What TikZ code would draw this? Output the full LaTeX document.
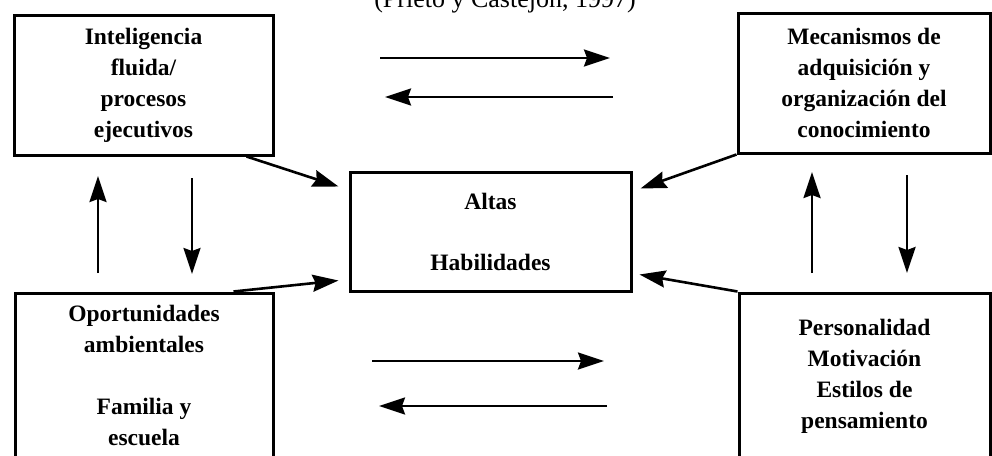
\documentclass[tikz,border=0pt]{standalone}
\usepackage{fontspec}
\setmainfont{Liberation Serif}
\usetikzlibrary{arrows.meta}
\begin{document}
\begin{tikzpicture}[x=1pt,y=-1pt,
  boxstyle/.style={draw, line width=3pt, inner sep=0pt, align=center,
    font={\fontsize{23.5}{31}\selectfont\bfseries}},
  arr/.style={line width=2.6pt, -{Stealth[length=26pt,width=17pt,inset=3pt]}}]
\useasboundingbox (0,0) rectangle (992,455);
\fill[white] (0,0) rectangle (992,455);
\node[anchor=base, font={\fontsize{26}{30}\selectfont}] (title) at (505,7) {(Prieto y Castejón, 1997)};
\node[boxstyle, minimum width=259pt, minimum height=140pt] (TL) at (143.5,85)
  {Inteligencia\\fluida/\\procesos\\ejecutivos};
\node[boxstyle, minimum width=252pt, minimum height=140pt] (TR) at (864,83)
  {Mecanismos de\\adquisición y\\organización del\\conocimiento};
\node[boxstyle, minimum width=258pt, minimum height=165pt] (BL) at (144,375.5)
  {Oportunidades\\ambientales\\[31pt]Familia y\\escuela};
\node[boxstyle, minimum width=251pt, minimum height=166pt] (BR) at (864.5,376)
  {Personalidad\\Motivación\\Estilos de\\pensamiento};
\node[boxstyle, minimum width=281pt, minimum height=119pt] (C) at (490.5,231.5)
  {Altas\\[30pt]Habilidades};
% diagonal arrows
\draw[arr] ([xshift=-28pt]TL.south east) -- ([xshift=-10pt,yshift=-16pt]C.north west);
\draw[arr] (TR.south west) -- ([xshift=8pt,yshift=-18pt]C.north east);
\draw[arr] ([xshift=-41pt]BL.north east) -- ([xshift=-10pt,yshift=12pt]C.south west);
\draw[arr] (BR.north west) -- ([xshift=7pt,yshift=18pt]C.south east);
% horizontal arrows
\coordinate (h1a) at (380,58);  \coordinate (h1b) at (610,58);
\coordinate (h2a) at (613,97);  \coordinate (h2b) at (385,97);
\coordinate (h3a) at (372,361); \coordinate (h3b) at (604,361);
\coordinate (h4a) at (607,406); \coordinate (h4b) at (379,406);
\draw[arr] (h1a) -- (h1b);
\draw[arr] (h2a) -- (h2b);
\draw[arr] (h3a) -- (h3b);
\draw[arr] (h4a) -- (h4b);
% vertical arrows
\coordinate (v1a) at (98,273);  \coordinate (v1b) at (98,176);
\coordinate (v2a) at (192,178); \coordinate (v2b) at (192,274);
\coordinate (v3a) at (812,273); \coordinate (v3b) at (812,172);
\coordinate (v4a) at (907,175); \coordinate (v4b) at (907,273);
\draw[arr] (v1a) -- (v1b);
\draw[arr] (v2a) -- (v2b);
\draw[arr] (v3a) -- (v3b);
\draw[arr] (v4a) -- (v4b);
\end{tikzpicture}
\end{document}
